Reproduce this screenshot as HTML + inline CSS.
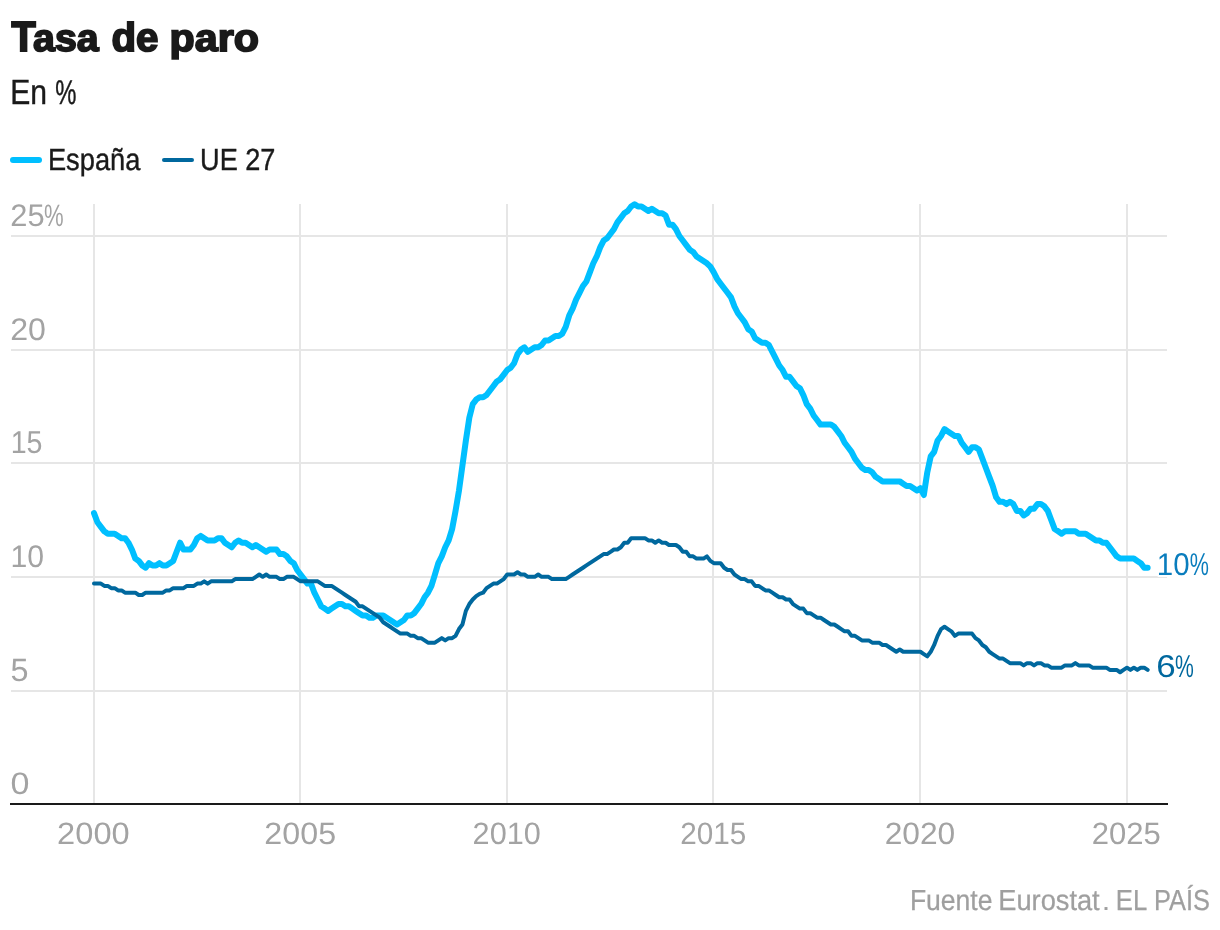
<!DOCTYPE html>
<html lang="es"><head><meta charset="utf-8"><title>Tasa de paro</title>
<style>
html,body{margin:0;padding:0;background:#fff;}
body{width:1220px;height:930px;overflow:hidden;font-family:"Liberation Sans",sans-serif;}
svg{display:block;will-change:transform;}
text{font-family:"Liberation Sans",sans-serif;text-rendering:geometricPrecision;}
</style></head><body>
<svg width="1220" height="930" viewBox="0 0 1220 930" font-family="Liberation Sans, sans-serif">
<rect width="1220" height="930" fill="#fff"/>
<rect x="11" y="235" width="1156" height="2" fill="#e6e6e6"/>
<rect x="11" y="349" width="1156" height="2" fill="#e6e6e6"/>
<rect x="11" y="462" width="1156" height="2" fill="#e6e6e6"/>
<rect x="11" y="576" width="1156" height="2" fill="#e6e6e6"/>
<rect x="11" y="690" width="1156" height="2" fill="#e6e6e6"/>
<rect x="93" y="204" width="2" height="599" fill="#e6e6e6"/>
<rect x="299" y="204" width="2" height="599" fill="#e6e6e6"/>
<rect x="506" y="204" width="2" height="599" fill="#e6e6e6"/>
<rect x="712" y="204" width="2" height="599" fill="#e6e6e6"/>
<rect x="919" y="204" width="2" height="599" fill="#e6e6e6"/>
<rect x="1126" y="204" width="2" height="599" fill="#e6e6e6"/>
<rect x="10" y="803" width="1158" height="2" fill="#1a1a1a"/>
<path d="M94.00 513.18 L97.44 522.27 L100.89 526.82 L104.33 531.36 L107.77 533.63 L111.22 533.63 L114.66 533.63 L118.10 535.90 L121.55 538.18 L124.99 538.18 L128.43 542.72 L131.88 549.54 L135.32 558.62 L138.76 560.90 L142.21 565.44 L145.65 567.71 L149.09 563.17 L152.54 565.44 L155.98 565.44 L159.42 563.17 L162.87 565.44 L166.31 565.44 L169.75 563.17 L173.20 560.90 L176.64 551.81 L180.08 542.72 L183.53 549.54 L186.97 549.54 L190.41 549.54 L193.86 544.99 L197.30 538.18 L200.74 535.90 L204.19 538.18 L207.63 540.45 L211.07 540.45 L214.52 540.45 L217.96 538.18 L221.40 538.18 L224.85 542.72 L228.29 544.99 L231.73 547.26 L235.18 542.72 L238.62 540.45 L242.06 542.72 L245.51 542.72 L248.95 544.99 L252.39 547.26 L255.84 544.99 L259.28 547.26 L262.72 549.54 L266.16 551.81 L269.61 549.54 L273.05 549.54 L276.49 549.54 L279.94 554.08 L283.38 554.08 L286.82 556.35 L290.27 560.90 L293.71 563.17 L297.15 569.98 L300.60 574.53 L304.04 579.07 L307.48 583.62 L310.93 583.62 L314.37 592.70 L317.81 599.52 L321.26 606.34 L324.70 608.61 L328.14 610.88 L331.59 608.61 L335.03 606.34 L338.47 604.06 L341.92 604.06 L345.36 606.34 L348.80 606.34 L352.25 608.61 L355.69 610.88 L359.13 613.15 L362.58 615.42 L366.02 615.42 L369.46 617.70 L372.91 617.70 L376.35 615.42 L379.79 615.42 L383.24 615.42 L386.68 617.70 L390.12 619.97 L393.57 622.24 L397.01 624.51 L400.45 622.24 L403.90 619.97 L407.34 615.42 L410.78 615.42 L414.23 613.15 L417.67 608.61 L421.11 604.06 L424.56 597.25 L428.00 592.70 L431.44 585.89 L434.89 574.53 L438.33 563.17 L441.77 556.35 L445.22 547.26 L448.66 540.45 L452.10 529.09 L455.55 510.91 L458.99 490.46 L462.43 465.47 L465.88 440.48 L469.32 417.76 L472.76 404.13 L476.21 399.58 L479.65 397.31 L483.09 397.31 L486.54 395.04 L489.98 390.50 L493.42 385.95 L496.87 381.41 L500.31 379.14 L503.75 374.59 L507.20 370.05 L510.64 367.78 L514.08 363.23 L517.53 354.14 L520.97 349.60 L524.41 347.33 L527.86 351.87 L531.30 349.60 L534.74 347.33 L538.19 347.33 L541.63 345.06 L545.07 340.51 L548.52 340.51 L551.96 338.24 L555.40 335.97 L558.85 335.97 L562.29 333.70 L565.73 326.88 L569.18 315.52 L572.62 308.70 L576.06 299.62 L579.51 292.80 L582.95 285.98 L586.39 281.44 L589.84 272.35 L593.28 263.26 L596.72 256.45 L600.17 247.36 L603.61 240.54 L607.05 238.27 L610.50 233.73 L613.94 229.18 L617.38 222.37 L620.82 217.82 L624.27 213.28 L627.71 211.01 L631.15 206.46 L634.60 204.19 L638.04 206.46 L641.48 206.46 L644.93 208.74 L648.37 211.01 L651.81 208.74 L655.26 211.01 L658.70 213.28 L662.14 213.28 L665.59 215.55 L669.03 224.64 L672.47 224.64 L675.92 229.18 L679.36 236.00 L682.80 240.54 L686.25 245.09 L689.69 249.63 L693.13 251.90 L696.58 256.45 L700.02 258.72 L703.46 260.99 L706.91 263.26 L710.35 266.67 L713.79 272.35 L717.24 279.17 L720.68 283.71 L724.12 288.26 L727.57 292.80 L731.01 297.34 L734.45 306.43 L737.90 313.25 L741.34 317.79 L744.78 322.34 L748.23 329.15 L751.67 331.42 L755.11 338.24 L758.56 340.51 L762.00 342.78 L765.44 342.78 L768.89 345.06 L772.33 351.87 L775.77 358.69 L779.22 365.50 L782.66 370.05 L786.10 376.86 L789.55 376.86 L792.99 381.41 L796.43 385.95 L799.88 388.22 L803.32 395.04 L806.76 404.13 L810.21 408.67 L813.65 415.49 L817.09 420.03 L820.54 424.58 L823.98 424.58 L827.42 424.58 L830.87 424.58 L834.31 426.85 L837.75 431.39 L841.20 435.94 L844.64 442.75 L848.08 447.30 L851.53 451.84 L854.97 458.66 L858.41 463.20 L861.86 467.74 L865.30 470.02 L868.74 470.02 L872.19 472.29 L875.63 476.83 L879.07 479.10 L882.52 481.38 L885.96 481.38 L889.40 481.38 L892.85 481.38 L896.29 481.38 L899.73 481.38 L903.18 483.65 L906.62 485.92 L910.06 485.92 L913.51 488.19 L916.95 490.46 L920.39 488.19 L923.84 495.01 L927.28 472.29 L930.72 456.38 L934.17 451.84 L937.61 440.48 L941.05 435.94 L944.50 429.12 L947.94 431.39 L951.38 433.66 L954.82 435.94 L958.27 435.94 L961.71 442.75 L965.15 447.30 L968.60 451.84 L972.04 447.30 L975.48 447.30 L978.93 449.57 L982.37 458.66 L985.81 467.74 L989.26 476.83 L992.70 485.92 L996.14 497.28 L999.59 501.82 L1003.03 501.82 L1006.47 504.10 L1009.92 501.82 L1013.36 504.10 L1016.80 510.91 L1020.25 510.91 L1023.69 515.46 L1027.13 513.18 L1030.58 508.64 L1034.02 508.64 L1037.46 504.10 L1040.91 504.10 L1044.35 506.37 L1047.79 510.91 L1051.24 520.00 L1054.68 529.09 L1058.12 531.36 L1061.57 533.63 L1065.01 531.36 L1068.45 531.36 L1071.90 531.36 L1075.34 531.36 L1078.78 533.63 L1082.23 533.63 L1085.67 533.63 L1089.11 535.90 L1092.56 538.18 L1096.00 540.45 L1099.44 540.45 L1102.89 542.72 L1106.33 542.72 L1109.77 547.26 L1113.22 551.81 L1116.66 556.35 L1120.10 558.62 L1123.55 558.62 L1126.99 558.62 L1130.43 558.62 L1133.88 558.62 L1137.32 560.90 L1140.76 563.17 L1144.21 567.71 L1147.65 567.71" fill="none" stroke="#00bfff" stroke-width="6" stroke-linejoin="round" stroke-linecap="round"/>
<path d="M94.00 583.62 L97.44 583.62 L100.89 583.62 L104.33 585.89 L107.77 585.89 L111.22 588.16 L114.66 588.16 L118.10 590.43 L121.55 590.43 L124.99 592.70 L128.43 592.70 L131.88 592.70 L135.32 592.70 L138.76 594.98 L142.21 594.98 L145.65 592.70 L149.09 592.70 L152.54 592.70 L155.98 592.70 L159.42 592.70 L162.87 592.70 L166.31 590.43 L169.75 590.43 L173.20 588.16 L176.64 588.16 L180.08 588.16 L183.53 588.16 L186.97 585.89 L190.41 585.89 L193.86 585.89 L197.30 583.62 L200.74 583.62 L204.19 581.34 L207.63 583.62 L211.07 581.34 L214.52 581.34 L217.96 581.34 L221.40 581.34 L224.85 581.34 L228.29 581.34 L231.73 581.34 L235.18 579.07 L238.62 579.07 L242.06 579.07 L245.51 579.07 L248.95 579.07 L252.39 579.07 L255.84 576.80 L259.28 574.53 L262.72 576.80 L266.16 574.53 L269.61 576.80 L273.05 576.80 L276.49 576.80 L279.94 579.07 L283.38 579.07 L286.82 576.80 L290.27 576.80 L293.71 576.80 L297.15 579.07 L300.60 581.34 L304.04 581.34 L307.48 581.34 L310.93 581.34 L314.37 581.34 L317.81 581.34 L321.26 583.62 L324.70 585.89 L328.14 585.89 L331.59 585.89 L335.03 588.16 L338.47 590.43 L341.92 592.70 L345.36 594.98 L348.80 597.25 L352.25 599.52 L355.69 601.79 L359.13 606.34 L362.58 606.34 L366.02 608.61 L369.46 610.88 L372.91 613.15 L376.35 615.42 L379.79 617.70 L383.24 622.24 L386.68 624.51 L390.12 626.78 L393.57 629.06 L397.01 631.33 L400.45 633.60 L403.90 633.60 L407.34 633.60 L410.78 635.87 L414.23 635.87 L417.67 638.14 L421.11 638.14 L424.56 640.42 L428.00 642.69 L431.44 642.69 L434.89 642.69 L438.33 640.42 L441.77 638.14 L445.22 640.42 L448.66 638.14 L452.10 638.14 L455.55 635.87 L458.99 629.06 L462.43 624.51 L465.88 610.88 L469.32 604.06 L472.76 599.52 L476.21 596.11 L479.65 593.84 L483.09 592.70 L486.54 588.16 L489.98 585.89 L493.42 583.62 L496.87 583.62 L500.31 581.34 L503.75 579.07 L507.20 574.53 L510.64 574.53 L514.08 574.53 L517.53 572.26 L520.97 574.53 L524.41 574.53 L527.86 576.80 L531.30 576.80 L534.74 576.80 L538.19 574.53 L541.63 576.80 L545.07 576.80 L548.52 576.80 L551.96 579.07 L555.40 579.07 L558.85 579.07 L562.29 579.07 L565.73 579.07 L569.18 576.80 L572.62 574.53 L576.06 572.26 L579.51 569.98 L582.95 567.71 L586.39 565.44 L589.84 563.17 L593.28 560.90 L596.72 558.62 L600.17 556.35 L603.61 554.08 L607.05 554.08 L610.50 551.81 L613.94 549.54 L617.38 549.54 L620.82 547.26 L624.27 542.72 L627.71 542.72 L631.15 538.18 L634.60 538.18 L638.04 538.18 L641.48 538.18 L644.93 538.18 L648.37 540.45 L651.81 540.45 L655.26 542.72 L658.70 540.45 L662.14 542.72 L665.59 542.72 L669.03 544.99 L672.47 544.99 L675.92 544.99 L679.36 547.26 L682.80 551.81 L686.25 551.81 L689.69 556.35 L693.13 556.35 L696.58 558.62 L700.02 558.62 L703.46 558.62 L706.91 556.35 L710.35 560.90 L713.79 563.17 L717.24 563.17 L720.68 563.17 L724.12 567.71 L727.57 569.98 L731.01 569.98 L734.45 574.53 L737.90 576.80 L741.34 579.07 L744.78 579.07 L748.23 581.34 L751.67 581.34 L755.11 585.89 L758.56 585.89 L762.00 588.16 L765.44 590.43 L768.89 590.43 L772.33 592.70 L775.77 594.98 L779.22 597.25 L782.66 597.25 L786.10 599.52 L789.55 599.52 L792.99 604.06 L796.43 606.34 L799.88 608.61 L803.32 608.61 L806.76 613.15 L810.21 613.15 L813.65 615.42 L817.09 617.70 L820.54 617.70 L823.98 619.97 L827.42 622.24 L830.87 624.51 L834.31 624.51 L837.75 626.78 L841.20 629.06 L844.64 631.33 L848.08 631.33 L851.53 635.87 L854.97 635.87 L858.41 638.14 L861.86 640.42 L865.30 640.42 L868.74 640.42 L872.19 642.69 L875.63 642.69 L879.07 642.69 L882.52 644.96 L885.96 644.96 L889.40 647.23 L892.85 649.50 L896.29 651.78 L899.73 649.50 L903.18 651.78 L906.62 651.78 L910.06 651.78 L913.51 651.78 L916.95 651.78 L920.39 651.78 L923.84 654.05 L927.28 656.32 L930.72 651.78 L934.17 644.96 L937.61 635.87 L941.05 629.06 L944.50 626.78 L947.94 629.06 L951.38 631.33 L954.82 635.87 L958.27 633.60 L961.71 633.60 L965.15 633.60 L968.60 633.60 L972.04 633.60 L975.48 638.14 L978.93 640.42 L982.37 644.96 L985.81 647.23 L989.26 651.78 L992.70 654.05 L996.14 656.32 L999.59 658.59 L1003.03 658.59 L1006.47 660.86 L1009.92 663.14 L1013.36 663.14 L1016.80 663.14 L1020.25 663.14 L1023.69 665.41 L1027.13 663.14 L1030.58 663.14 L1034.02 665.41 L1037.46 663.14 L1040.91 663.14 L1044.35 665.41 L1047.79 665.41 L1051.24 667.68 L1054.68 667.68 L1058.12 667.68 L1061.57 667.68 L1065.01 665.41 L1068.45 665.41 L1071.90 665.41 L1075.34 663.14 L1078.78 665.41 L1082.23 665.41 L1085.67 665.41 L1089.11 665.41 L1092.56 667.68 L1096.00 667.68 L1099.44 667.68 L1102.89 667.68 L1106.33 667.68 L1109.77 669.95 L1113.22 669.95 L1116.66 669.95 L1120.10 672.22 L1123.55 669.95 L1126.99 667.68 L1130.43 669.95 L1133.88 667.68 L1137.32 669.95 L1140.76 667.68 L1144.21 667.68 L1147.65 669.95" fill="none" stroke="#00689e" stroke-width="4" stroke-linejoin="round" stroke-linecap="round"/>
<text transform="matrix(0.3966 0 0 0.4219 11.40 51.30)" font-size="100" font-weight="bold" fill="#1a1a1a" stroke="#1a1a1a" stroke-width="4.6" stroke-linejoin="miter">T</text>
<text transform="matrix(0.3933 0 0 0.3835 33.02 51.42)" font-size="100" font-weight="bold" fill="#1a1a1a" stroke="#1a1a1a" stroke-width="4.6" stroke-linejoin="miter">asa</text>
<text transform="matrix(0.4027 0 0 0.4000 111.49 51.40)" font-size="100" font-weight="bold" fill="#1a1a1a" stroke="#1a1a1a" stroke-width="4.6" stroke-linejoin="miter">de</text>
<text transform="matrix(0.4126 0 0 0.3835 169.52 51.42)" font-size="100" font-weight="bold" fill="#1a1a1a" stroke="#1a1a1a" stroke-width="4.6" stroke-linejoin="miter">paro</text>
<text transform="matrix(0.3009 0 0 0.3496 10.19 103.90)" font-size="100" font-weight="normal" fill="#1a1a1a" stroke="#1a1a1a" stroke-width="1.3">En</text>
<text transform="matrix(0.2378 0 0 0.3414 55.17 103.93)" font-size="100" font-weight="normal" fill="#1a1a1a" stroke="#1a1a1a" stroke-width="1.3">%</text>
<line x1="13" y1="160" x2="39" y2="160" stroke="#00bfff" stroke-width="6" stroke-linecap="round"/>
<text transform="matrix(0.2725 0 0 0.3066 47.92 169.60)" font-size="100" font-weight="normal" fill="#1a1a1a" stroke="#1a1a1a" stroke-width="1.3">España</text>
<line x1="164" y1="160" x2="192" y2="160" stroke="#00689e" stroke-width="4" stroke-linecap="round"/>
<text transform="matrix(0.2712 0 0 0.3066 200.07 169.60)" font-size="100" font-weight="normal" fill="#1a1a1a" stroke="#1a1a1a" stroke-width="1.3">UE 27</text>
<text transform="matrix(0.3088 0 0 0.3127 10.26 225.89)" font-size="100" font-weight="normal" fill="#a3a3a3" >25</text>
<text transform="matrix(0.2207 0 0 0.3100 44.03 226.04)" font-size="100" font-weight="normal" fill="#a3a3a3" >%</text>
<text transform="matrix(0.3215 0 0 0.3127 10.19 339.89)" font-size="100" font-weight="normal" fill="#a3a3a3" >20</text>
<text transform="matrix(0.2864 0 0 0.3165 10.65 452.88)" font-size="100" font-weight="normal" fill="#a3a3a3" >15</text>
<text transform="matrix(0.3020 0 0 0.3127 10.54 566.89)" font-size="100" font-weight="normal" fill="#a3a3a3" >10</text>
<text transform="matrix(0.3242 0 0 0.3223 10.50 681.08)" font-size="100" font-weight="normal" fill="#a3a3a3" >5</text>
<text transform="matrix(0.3411 0 0 0.3099 10.44 794.09)" font-size="100" font-weight="normal" fill="#a3a3a3" >0</text>
<text transform="matrix(0.3265 0 0 0.3099 57.07 844.29)" font-size="100" font-weight="normal" fill="#a3a3a3" >2000</text>
<text transform="matrix(0.3227 0 0 0.3099 264.29 844.29)" font-size="100" font-weight="normal" fill="#a3a3a3" >2005</text>
<text transform="matrix(0.3068 0 0 0.3099 472.57 844.29)" font-size="100" font-weight="normal" fill="#a3a3a3" >2010</text>
<text transform="matrix(0.2965 0 0 0.3099 680.22 844.29)" font-size="100" font-weight="normal" fill="#a3a3a3" >2015</text>
<text transform="matrix(0.3171 0 0 0.3099 884.71 844.29)" font-size="100" font-weight="normal" fill="#a3a3a3" >2020</text>
<text transform="matrix(0.3105 0 0 0.3099 1091.65 844.29)" font-size="100" font-weight="normal" fill="#a3a3a3" >2025</text>
<text transform="matrix(0.2950 0 0 0.3141 1156.79 574.79)" font-size="100" font-weight="normal" fill="#0a7dbd" stroke="#fff" stroke-width="12" stroke-linejoin="round" paint-order="stroke">10</text>
<text transform="matrix(0.2159 0 0 0.3157 1189.74 575.14)" font-size="100" font-weight="normal" fill="#0a7dbd" stroke="#fff" stroke-width="12" stroke-linejoin="round" paint-order="stroke">%</text>
<text transform="matrix(0.3500 0 0 0.3155 1156.25 677.08)" font-size="100" font-weight="normal" fill="#00689e" stroke="#fff" stroke-width="12" stroke-linejoin="round" paint-order="stroke">6</text>
<text transform="matrix(0.2122 0 0 0.3157 1174.96 677.34)" font-size="100" font-weight="normal" fill="#00689e" stroke="#fff" stroke-width="12" stroke-linejoin="round" paint-order="stroke">%</text>
<text transform="matrix(0.2652 0 0 0.2891 909.88 909.90)" font-size="100" font-weight="normal" fill="#9f9f9f" stroke="#9f9f9f" stroke-width="0.9">Fuente</text>
<text transform="matrix(0.2721 0 0 0.2891 998.32 909.90)" font-size="100" font-weight="normal" fill="#9f9f9f" stroke="#9f9f9f" stroke-width="0.9">Eurostat</text>
<text transform="matrix(0.3053 0 0 0.2762 1101.85 909.90)" font-size="100" font-weight="normal" fill="#9f9f9f" >.</text>
<text transform="matrix(0.2568 0 0 0.2891 1115.85 909.90)" font-size="100" font-weight="normal" fill="#9f9f9f" stroke="#9f9f9f" stroke-width="0.9">EL</text>
<text transform="matrix(0.2543 0 0 0.2891 1153.97 909.90)" font-size="100" font-weight="normal" fill="#9f9f9f" stroke="#9f9f9f" stroke-width="0.9">PAÍS</text>
</svg>
</body></html>
